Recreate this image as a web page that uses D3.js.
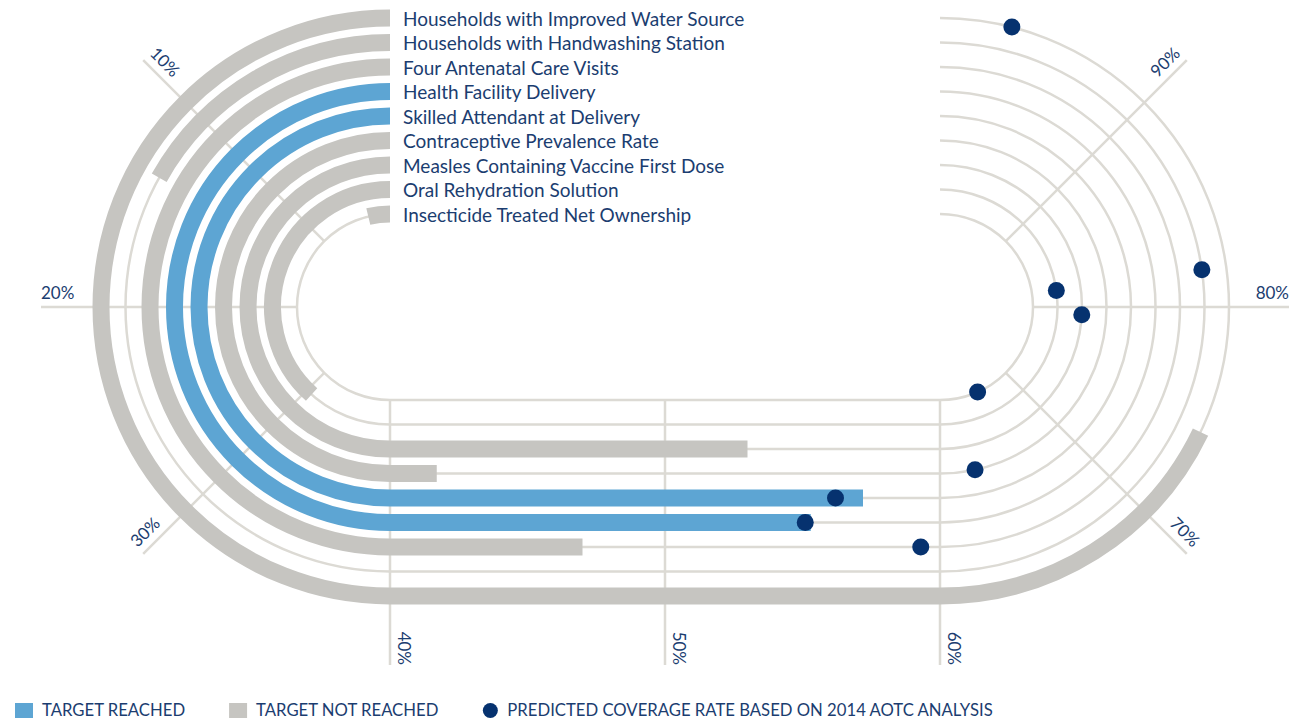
<!DOCTYPE html>
<html>
<head>
<meta charset="utf-8">
<script src="https://cdn.jsdelivr.net/npm/d3@7"></script>
<style>
  body { margin: 0; background: #fff; }
  text { font-family: Lato, "Open Sans", sans-serif; }
</style>
</head>
<body>
<script>
// indicators, outer track first
var categories = [
	"Households with Improved Water Source",
	"Households with Handwashing Station",
	"Four Antenatal Care Visits",
	"Health Facility Delivery",
	"Skilled Attendant at Delivery",
	"Contraceptive Prevalence Rate",
	"Measles Containing Vaccine First Dose",
	"Oral Rehydration Solution",
	"Insecticide Treated Net Ownership"
];
var coverage = [74.3, 13.5, 47.0, 55.3, 57.2, 41.7, 53.0, 30.7, 3.0];
var targetReached = [false, false, false, true, true, false, false, false, false];
var predicted = [96.8, 81.8, 59.3, 55.1, 56.2, 62.7, 79.3, 81.8, 65.3];
var ticks = [10, 20, 30, 40, 50, 60, 70, 80, 90];
var legendLabels = ["TARGET REACHED", "TARGET NOT REACHED", "PREDICTED COVERAGE RATE BASED ON 2014 AOTC ANALYSIS"];

var width = 1292,
	height = 721,
	cy = 307,
	band = 17;

var colors = {reached: "#5da5d3", notReached: "#c6c5c1", dot: "#06326f", grid: "#dcdad4", text: "#1b3d70"};

// track radius by index
var r = d3.scaleLinear().domain([0, categories.length - 1]).range([289, 93]);

// left half circle 0-40%, bottom straight 40-60%, right half circle 60-100%
var aLeft = d3.scaleLinear().domain([0, 40]).range([-Math.PI / 2, -3 * Math.PI / 2]);
var x = d3.scaleLinear().domain([40, 60]).range([390, 940]);
var aRight = d3.scaleLinear().domain([60, 100]).range([Math.PI / 2, -Math.PI / 2]);
var cxL = x(40), cxR = x(60);

function pointAt(rad, p) {
	if (p <= 40) return [cxL + rad * Math.cos(aLeft(p)), cy + rad * Math.sin(aLeft(p))];
	if (p <= 60) return [x(p), cy + rad];
	return [cxR + rad * Math.cos(aRight(p)), cy + rad * Math.sin(aRight(p))];
}

function trackPath(rad, p1) {
	var path = d3.path();
	var s = pointAt(rad, 0);
	path.moveTo(s[0], s[1]);
	path.arc(cxL, cy, rad, aLeft(0), aLeft(Math.min(p1, 40)), true);
	if (p1 > 40) path.lineTo(x(Math.min(p1, 60)), cy + rad);
	if (p1 > 60) path.arc(cxR, cy, rad, aRight(60), aRight(p1), true);
	return path.toString();
}

// bottom ticks reach a little further down
function tickOuter(d) { return (d >= 40 && d <= 60) ? 358 : 349; }

var svg = d3.select("body").append("svg")
	.attr("width", width)
	.attr("height", height);

// thin track lines
svg.append("g").selectAll("path")
	.data(categories)
	.enter().append("path")
		.attr("d", function(d, i) { return trackPath(r(i), 100); })
		.style("fill", "none")
		.style("stroke", colors.grid)
		.style("stroke-width", 2.5);

// tick lines
svg.append("g").selectAll("line")
	.data(ticks)
	.enter().append("line")
		.attr("x1", function(d) { return pointAt(r(8), d)[0]; })
		.attr("y1", function(d) { return pointAt(r(8), d)[1]; })
		.attr("x2", function(d) { return pointAt(tickOuter(d), d)[0]; })
		.attr("y2", function(d) { return pointAt(tickOuter(d), d)[1]; })
		.style("stroke", colors.grid)
		.style("stroke-width", 2.5);

// tick labels, readable side up, along the tick line
svg.append("g").selectAll("text")
	.data(ticks)
	.enter().append("text")
		.attr("transform", function(d) {
			var pt = pointAt(tickOuter(d), d), rot;
			if (d < 40) rot = -90 - d / 40 * 180 + 180;
			else if (d <= 60) rot = 90;
			else rot = 90 - (d - 60) / 40 * 180;
			return "translate(" + pt[0] + "," + pt[1] + ")rotate(" + rot + ")";
		})
		.attr("y", -8)
		.attr("text-anchor", function(d) { return d < 40 ? "start" : "end"; })
		.style("font-size", "17px")
		.style("fill", colors.text)
		.text(function(d) { return d + "%"; });

// coverage bands
svg.append("g").selectAll("path")
	.data(coverage)
	.enter().append("path")
		.attr("d", function(d, i) { return trackPath(r(i), d); })
		.style("fill", "none")
		.style("stroke", function(d, i) { return targetReached[i] ? colors.reached : colors.notReached; })
		.style("stroke-width", band);

// predicted coverage dots
svg.append("g").selectAll("circle")
	.data(predicted)
	.enter().append("circle")
		.attr("cx", function(d, i) { return pointAt(r(i), d)[0]; })
		.attr("cy", function(d, i) { return pointAt(r(i), d)[1]; })
		.attr("r", 8.5)
		.style("fill", colors.dot);

// indicator names at the start of each track
svg.append("g").selectAll("text")
	.data(categories)
	.enter().append("text")
		.attr("x", 403)
		.attr("y", function(d, i) { return cy - r(i); })
		.attr("dy", "0.4em")
		.style("font-size", "19px")
		.style("fill", colors.text)
		.text(function(d) { return d; });

// legend
var legend = svg.append("g").attr("transform", "translate(15,0)");
var lx = 0;
legendLabels.forEach(function(label, i) {
	if (i < 2) {
		legend.append("rect")
			.attr("x", lx).attr("y", 703)
			.attr("width", 18).attr("height", 15)
			.style("fill", i == 0 ? colors.reached : colors.notReached);
	} else {
		legend.append("circle")
			.attr("cx", lx + 8).attr("cy", 710.5).attr("r", 7.5)
			.style("fill", colors.dot);
	}
	var t = legend.append("text")
		.attr("x", lx + (i < 2 ? 27 : 25))
		.attr("y", 716)
		.style("font-size", "16.7px")
		.style("fill", colors.text)
		.text(label);
	lx = lx + (i < 2 ? 27 : 25) + t.node().getComputedTextLength() + 44;
});
</script>
</body>
</html>
